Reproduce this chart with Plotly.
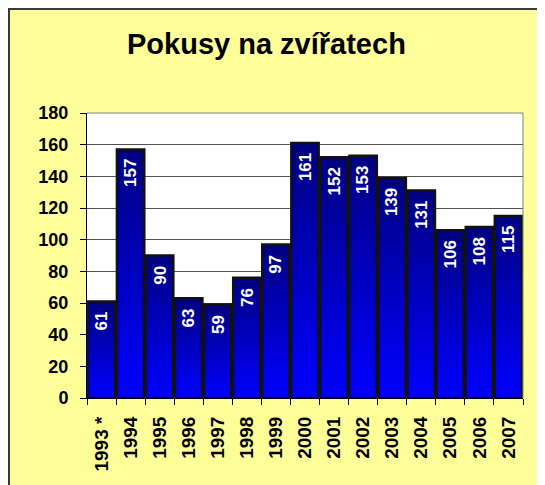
import plotly.graph_objects as go

years = ["1993 *", "1994", "1995", "1996", "1997", "1998", "1999", "2000",
         "2001", "2002", "2003", "2004", "2005", "2006", "2007"]
values = [61, 157, 90, 63, 59, 76, 97, 161, 152, 153, 139, 131, 106, 108, 115]
title_text = "Pokusy na zvířatech"

FONT = "Arial, Liberation Sans, sans-serif"
# the page body has an 8px default margin, so the figure is sized to fill the rest
OFF = 8
W, H = 545 - OFF, 485 - OFF
ML, MR, MT, MB = 87 - OFF, 22, 113 - OFF, 87
PW, PH = W - ML - MR, H - MT - MB
half = 0.47


def px_x(x):
    return (x - OFF - ML) / PW


def px_y(y):
    return (H - MB - (y - OFF)) / PH


fig = go.Figure()
idx = list(range(len(values)))
for i, v in zip(idx, values):
    fig.add_trace(go.Scatter(
        x=[i - half, i - half, i + half, i + half, i - half],
        y=[0, v, v, 0, 0],
        mode="lines", fill="toself",
        fillgradient=dict(type="vertical",
                          colorscale=[[0, "#0000FF"], [1, "#000080"]]),
        line=dict(color="#111111", width=2.5),
        hoverinfo="skip", showlegend=False,
    ))

annotations = []
for i, v in zip(idx, values):
    annotations.append(dict(
        x=i, y=v, xref="x", yref="y", text=str(v), showarrow=False,
        textangle=-90, yanchor="top", xanchor="center", yshift=-8,
        font=dict(family=FONT, size=17, color="white", weight="bold"),
    ))
annotations.append(dict(
    x=px_x(266), y=px_y(44), xref="paper", yref="paper",
    text="<b>" + title_text + "</b>",
    showarrow=False, xanchor="center", yanchor="middle",
    font=dict(family=FONT, size=29, color="black"),
))

shapes = [
    dict(type="line", xref="paper", yref="paper", layer="above",
         x0=px_x(OFF + 1), x1=px_x(OFF + 1), y0=px_y(OFF + 1), y1=px_y(OFF + 600),
         line=dict(color="#3a3a3a", width=2)),
    dict(type="line", xref="paper", yref="paper", layer="above",
         x0=px_x(OFF), x1=px_x(OFF + 600), y0=px_y(OFF + 1), y1=px_y(OFF + 1),
         line=dict(color="#3a3a3a", width=2)),
    dict(type="line", xref="paper", yref="paper", layer="above",
         x0=0, x1=1, y0=1, y1=1, line=dict(color="#808080", width=1)),
    dict(type="line", xref="paper", yref="paper", layer="above",
         x0=1, x1=1, y0=0, y1=1, line=dict(color="#808080", width=1)),
]

fig.update_layout(
    width=W, height=H,
    margin=dict(l=ML, r=MR, t=MT, b=MB, autoexpand=False),
    paper_bgcolor="#FFFF99", plot_bgcolor="white",
    showlegend=False,
    annotations=annotations, shapes=shapes,
    xaxis=dict(
        range=[-0.5, len(values) - 0.5], tickmode="array", tickvals=idx, ticktext=years,
        tickangle=-90, ticks="outside", ticklen=6, tickcolor="rgba(0,0,0,0)",
        showline=True, linecolor="black", linewidth=1, showgrid=False, zeroline=False,
        tickfont=dict(family=FONT, size=19, color="black", weight="bold"),
        ticklabelstandoff=4,
        minor=dict(tickmode="linear", tick0=-0.5, dtick=1, ticks="outside",
                   ticklen=6, tickcolor="black", showgrid=False),
        fixedrange=True, automargin=False,
    ),
    yaxis=dict(
        range=[0, 180], tickmode="linear", tick0=0, dtick=20,
        ticks="outside", ticklen=6, tickcolor="black",
        showline=True, linecolor="black", linewidth=1,
        showgrid=True, gridcolor="#505050", gridwidth=1, zeroline=False,
        tickfont=dict(family=FONT, size=18, color="black", weight="bold"),
        ticklabelstandoff=8, fixedrange=True, automargin=False,
    ),
)

fig.write_html("out.html")
